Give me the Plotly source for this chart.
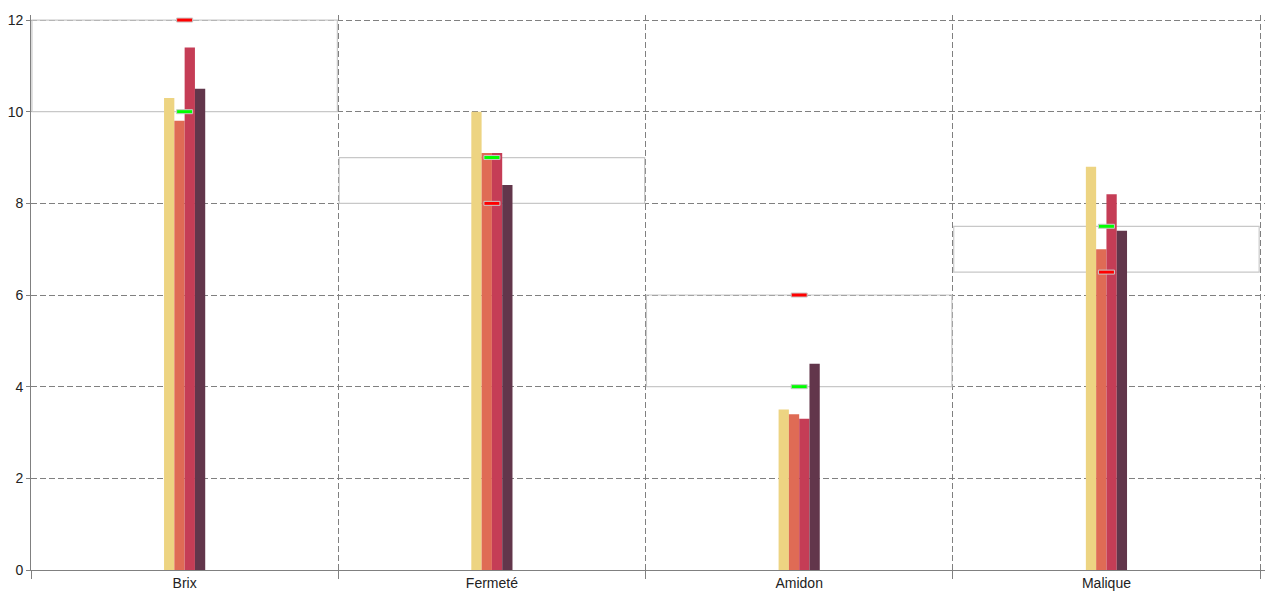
import plotly.graph_objects as go

categories = ["Brix", "Fermeté", "Amidon", "Malique"]
series_names = ["Série 1", "Série 2", "Série 3", "Série 4"]
series_values = [
    [10.3, 10.0, 3.5, 8.8],
    [9.8, 9.1, 3.4, 7.0],
    [11.4, 9.1, 3.3, 8.2],
    [10.5, 8.4, 4.5, 7.4],
]
series_colors = ["#EDD482", "#DF6B55", "#C53D56", "#62364B"]
green_marks = [10, 9, 4, 7.5]
red_marks = [12, 8, 6, 6.5]
y_ticks = [0, 2, 4, 6, 8, 10, 12]

fig = go.Figure()
for name, vals, col in zip(series_names, series_values, series_colors):
    fig.add_trace(go.Bar(x=categories, y=vals, name=name, marker=dict(color=col, line=dict(width=0)),
                         showlegend=False))

shapes = []
for i, cat in enumerate(categories):
    lo = min(green_marks[i], red_marks[i])
    hi = max(green_marks[i], red_marks[i])
    shapes.append(dict(type="rect", xref="x", yref="y", x0=i - 0.497, x1=i + 0.497, y0=lo, y1=hi,
                       line=dict(color="#C8C8C8", width=1.2), fillcolor="rgba(0,0,0,0)", layer="between"))
    for val, col in ((green_marks[i], "#00FF00"), (red_marks[i], "#FF0000")):
        shapes.append(dict(type="rect", xref="x", yref="y", xsizemode="pixel", ysizemode="pixel",
                           xanchor=i, yanchor=val, x0=-8, x1=8, y0=-2, y1=2,
                           line=dict(color="#C8C8C8", width=1), fillcolor=col, layer="above"))

# The page body has an 8px margin, so the figure is offset by 8px.
fig.update_layout(
    width=1264, height=584,
    margin=dict(l=23, r=7, t=7, b=22),
    paper_bgcolor="white", plot_bgcolor="white",
    barmode="group", bargap=0.866, bargroupgap=0,
    shapes=shapes,
    showlegend=False,
    font=dict(family="Liberation Sans, Arial, sans-serif", size=14, color="#222222"),
    xaxis=dict(type="category", tickson="boundaries", ticks="outside", ticklen=8, tickcolor="#808080",
               showgrid=True, gridcolor="#808080", griddash="6px,3px", gridwidth=1,
               showline=True, linecolor="#808080", linewidth=1, range=[-0.5, 3.516],
               automargin=False, tickfont=dict(size=14, color="#222222")),
    yaxis=dict(range=[0, 12.11], tickvals=y_ticks, ticks="outside", ticklen=4, tickcolor="#808080",
               showgrid=True, gridcolor="#808080", griddash="6px,3px", gridwidth=1,
               showline=True, linecolor="#808080", linewidth=1, zeroline=False,
               automargin=False, tickfont=dict(size=14, color="#222222")),
)

fig.write_html("out.html")
